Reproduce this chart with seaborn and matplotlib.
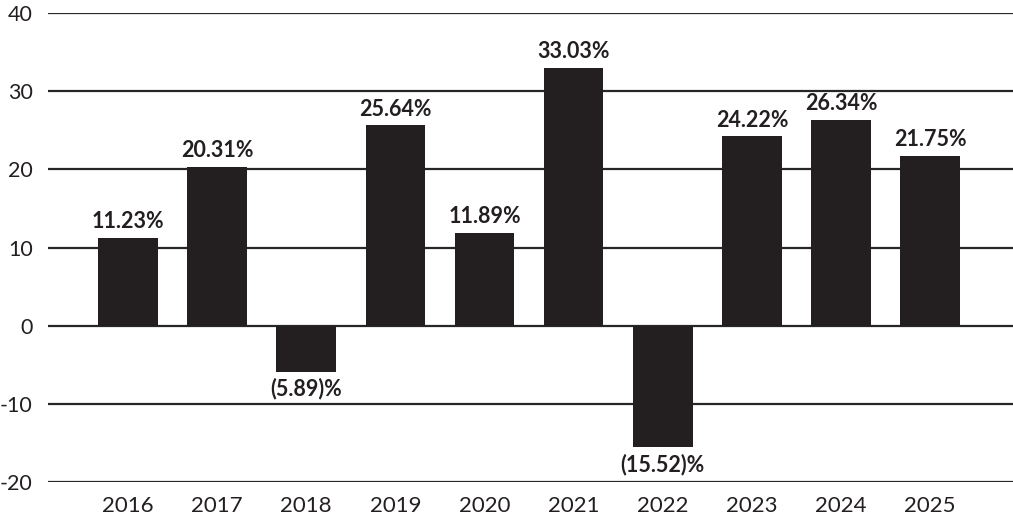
import pandas as pd
import seaborn as sns
from matplotlib import pyplot as plt

# 年度收益数据
years = ['2016', '2017', '2018', '2019', '2020', '2021', '2022', '2023', '2024', '2025']
returns = [11.23, 20.31, -5.89, 25.64, 11.89, 33.03, -15.52, 24.22, 26.34, 21.75]
bar_labels = ['11.23%', '20.31%', '(5.89)%', '25.64%', '11.89%', '33.03%',
              '(15.52)%', '24.22%', '26.34%', '21.75%']
y_ticks = [-20, -10, 0, 10, 20, 30, 40]

df = pd.DataFrame({'year': years, 'ret': returns})

sns.set_style("white")
plt.rcParams['font.family'] = ['Lato', 'DejaVu Sans']

fig = plt.figure(figsize=(10.13, 5.22), dpi=100)
ax = fig.add_axes([0.0474, 0.0766, 0.9526, 0.8984])

bar_color = '#231f20'
sns.barplot(data=df, x='year', y='ret', color=bar_color, width=0.67,
            saturation=1, linewidth=0, ax=ax, zorder=3)

# 网格线
for t in y_ticks:
    ax.axhline(t, color='#262626', lw=1.6, zorder=1)

for i, (v, lab) in enumerate(zip(returns, bar_labels)):
    if v >= 0:
        ax.text(i, v + 0.7, lab, ha='center', va='bottom', fontsize=15.5,
                fontweight='bold', color=bar_color)
    else:
        ax.text(i, v - 0.8, lab, ha='center', va='top', fontsize=15.5,
                fontweight='bold', color=bar_color)

ax.set_ylim(-20, 40)
ax.set_xlim(-0.898, 9.93)
ax.set_yticks(y_ticks)
ax.set_yticklabels([str(t) for t in y_ticks])
ax.tick_params(axis='y', length=0, pad=11, labelsize=15.5, labelcolor='#231f20')
ax.tick_params(axis='x', length=0, pad=10, labelsize=16, labelcolor='#231f20')
ax.set_xlabel('')
ax.set_ylabel('')
for s in ax.spines.values():
    s.set_visible(False)

fig.savefig('out.png', dpi=100)
